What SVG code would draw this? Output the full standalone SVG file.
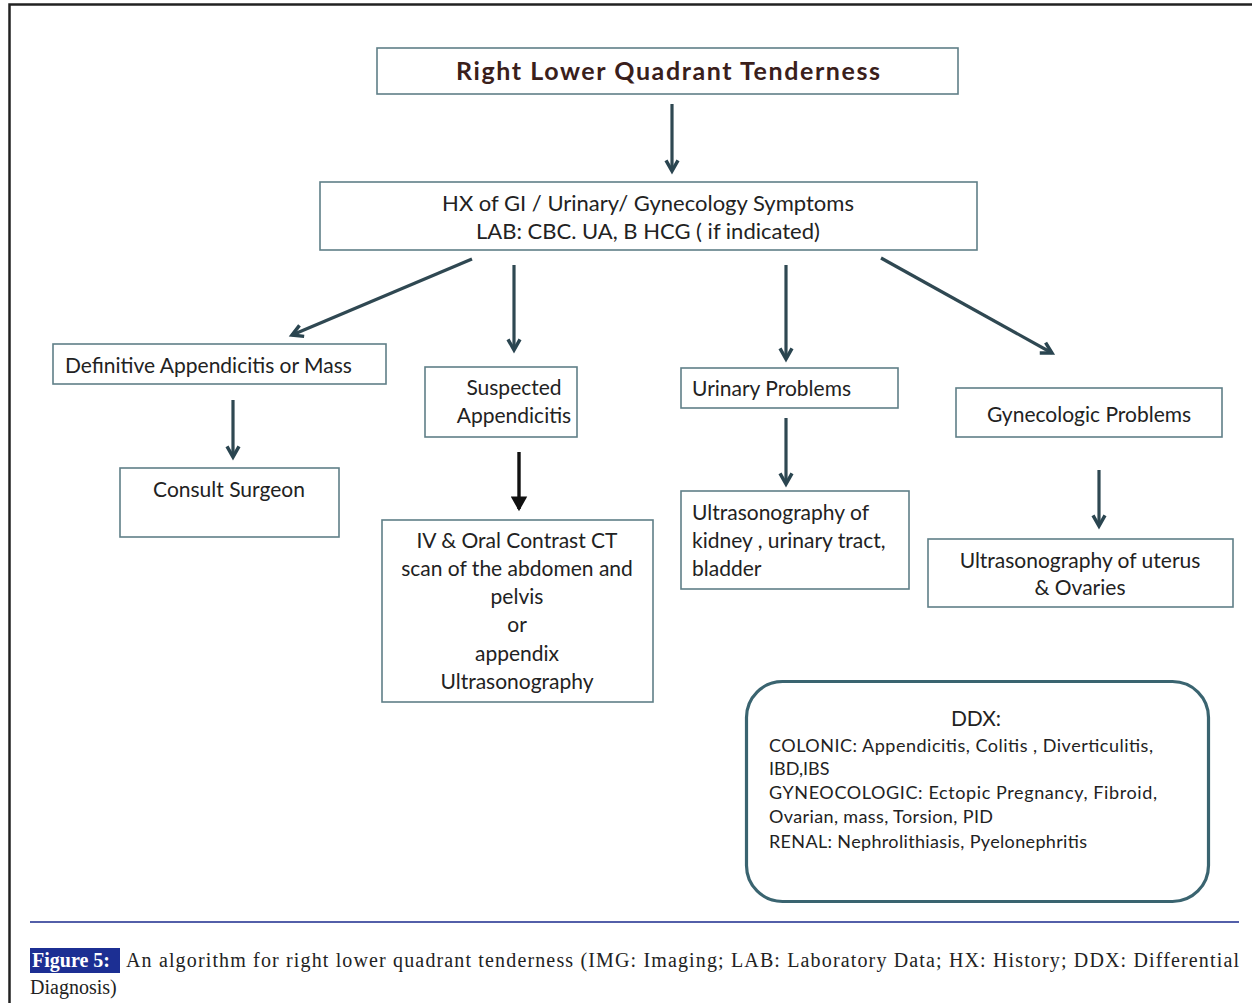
<svg xmlns="http://www.w3.org/2000/svg" width="1252" height="1003" viewBox="0 0 1252 1003">
<defs>
<marker id="ah" viewBox="0 0 12 12" refX="9" refY="6" markerWidth="5" markerHeight="5" orient="auto" markerUnits="strokeWidth">
<path d="M1,1.5 L9,6 L1,10.5" fill="none" stroke="#2a4550" stroke-width="2.6" stroke-linejoin="miter"/>
</marker>
<marker id="ahk" viewBox="0 0 12 12" refX="9" refY="6" markerWidth="5" markerHeight="5" orient="auto" markerUnits="strokeWidth">
<path d="M1,1.5 L9,6 L1,10.5 Z" fill="#111" stroke="#111" stroke-width="1.5"/>
</marker>
</defs>
<style>
.box{fill:#fff;stroke:#5f7f88;stroke-width:1.6}
.t{font-family:Lato,"Open Sans","Liberation Sans",sans-serif;font-size:21px;fill:#222}
.c{text-anchor:middle}
.d{font-family:Lato,"Open Sans","Liberation Sans",sans-serif;font-size:18px;fill:#222}
.arr{stroke:#2f4852;stroke-width:3.2;fill:none;marker-end:url(#ah)}
.cap{font-family:"Liberation Serif",serif;font-size:20px;fill:#222}
</style>
<rect x="0" y="0" width="1252" height="1003" fill="#fff"/>
<path d="M9.5,1003 V4.5 H1252" fill="none" stroke="#222" stroke-width="2.5"/>

<g id="connectors">
<line class="arr" x1="672" y1="104" x2="672" y2="171"/>
<line class="arr" x1="472" y1="259" x2="292" y2="335"/>
<line class="arr" x1="514" y1="265" x2="514" y2="350"/>
<line class="arr" x1="786" y1="265" x2="786" y2="359"/>
<line class="arr" x1="881" y1="258" x2="1052" y2="353"/>
<line class="arr" x1="233" y1="400" x2="233" y2="457"/>
<line x1="519" y1="452" x2="519" y2="509" stroke="#111" stroke-width="3.4" marker-end="url(#ahk)"/>
<line class="arr" x1="786" y1="418" x2="786" y2="484"/>
<line class="arr" x1="1099" y1="470" x2="1099" y2="526"/>
</g>

<g id="n-title">
<rect class="box" x="377" y="48" width="581" height="46"/>
<text x="668" y="80" class="c" textLength="424" lengthAdjust="spacing" style="font-family:Lato,'Open Sans','Liberation Sans',sans-serif;font-size:25px;font-weight:bold;fill:#3a201b">Right Lower Quadrant Tenderness</text>
</g>
<g id="n-hx">
<rect class="box" x="320" y="182" width="657" height="68"/>
<text x="648" y="211" class="t c" style="font-size:22px">HX of GI / Urinary/ Gynecology Symptoms</text>
<text x="648" y="239" class="t c" style="font-size:22px">LAB: CBC. UA, B HCG ( if indicated)</text>
</g>
<g id="n-definitive">
<rect class="box" x="53" y="344" width="333" height="40"/>
<text x="65" y="373" class="t">Definitive Appendicitis or Mass</text>
</g>
<g id="n-suspected">
<rect class="box" x="425" y="367" width="152" height="70"/>
<text x="514" y="395" class="t c">Suspected</text>
<text x="514" y="423" class="t c">Appendicitis</text>
</g>
<g id="n-urinary">
<rect class="box" x="681" y="368" width="217" height="40"/>
<text x="692" y="396" class="t">Urinary Problems</text>
</g>
<g id="n-gyn">
<rect class="box" x="956" y="388" width="266" height="49"/>
<text x="1089" y="422" class="t c">Gynecologic  Problems</text>
</g>
<g id="n-consult">
<rect class="box" x="120" y="468" width="219" height="69"/>
<text x="229" y="497" class="t c">Consult Surgeon</text>
</g>
<g id="n-ct">
<rect class="box" x="382" y="520" width="271" height="182"/>
<text x="517" y="548" class="t c">IV &amp; Oral Contrast CT</text>
<text x="517" y="576" class="t c">scan of the abdomen and</text>
<text x="517" y="604" class="t c">pelvis</text>
<text x="517" y="632" class="t c">or</text>
<text x="517" y="661" class="t c">appendix</text>
<text x="517" y="689" class="t c">Ultrasonography</text>
</g>
<g id="n-us-kidney">
<rect class="box" x="681" y="491" width="228" height="98"/>
<text x="692" y="520" class="t">Ultrasonography of</text>
<text x="692" y="548" class="t">kidney , urinary tract,</text>
<text x="692" y="576" class="t">bladder</text>
</g>
<g id="n-us-uterus">
<rect class="box" x="928" y="539" width="305" height="68"/>
<text x="1080" y="568" class="t c">Ultrasonography of uterus</text>
<text x="1080" y="595" class="t c">&amp; Ovaries</text>
</g>
<g id="n-ddx">
<rect x="746.5" y="681.5" width="462" height="220" rx="36" ry="36" fill="#fff" stroke="#3a6470" stroke-width="3.2"/>
<text x="976" y="726" class="c" style="font-family:Lato,'Open Sans','Liberation Sans',sans-serif;font-size:21px;fill:#222">DDX:</text>
<text x="769" y="752" class="d" textLength="384" lengthAdjust="spacing">COLONIC: Appendicitis, Colitis , Diverticulitis,</text>
<text x="769" y="775" class="d">IBD,IBS</text>
<text x="769" y="799" class="d" textLength="388" lengthAdjust="spacing">GYNEOCOLOGIC: Ectopic Pregnancy, Fibroid,</text>
<text x="769" y="823" class="d" textLength="224" lengthAdjust="spacing">Ovarian,  mass, Torsion, PID</text>
<text x="769" y="848" class="d" textLength="318" lengthAdjust="spacing">RENAL: Nephrolithiasis, Pyelonephritis</text>
</g>

<line x1="30" y1="922" x2="1239" y2="922" stroke="#1a2a8c" stroke-width="1.5"/>
<g id="caption">
<rect x="30" y="948" width="90" height="25" fill="#1c2f93"/>
<text x="32" y="967" class="cap" style="fill:#fff;font-weight:bold">Figure 5:</text>
<text x="126" y="967" class="cap" textLength="1113" lengthAdjust="spacing">An algorithm for right lower quadrant tenderness (IMG: Imaging; LAB: Laboratory Data; HX: History; DDX: Differential</text>
<text x="30" y="994" class="cap">Diagnosis)</text>
</g>
</svg>
